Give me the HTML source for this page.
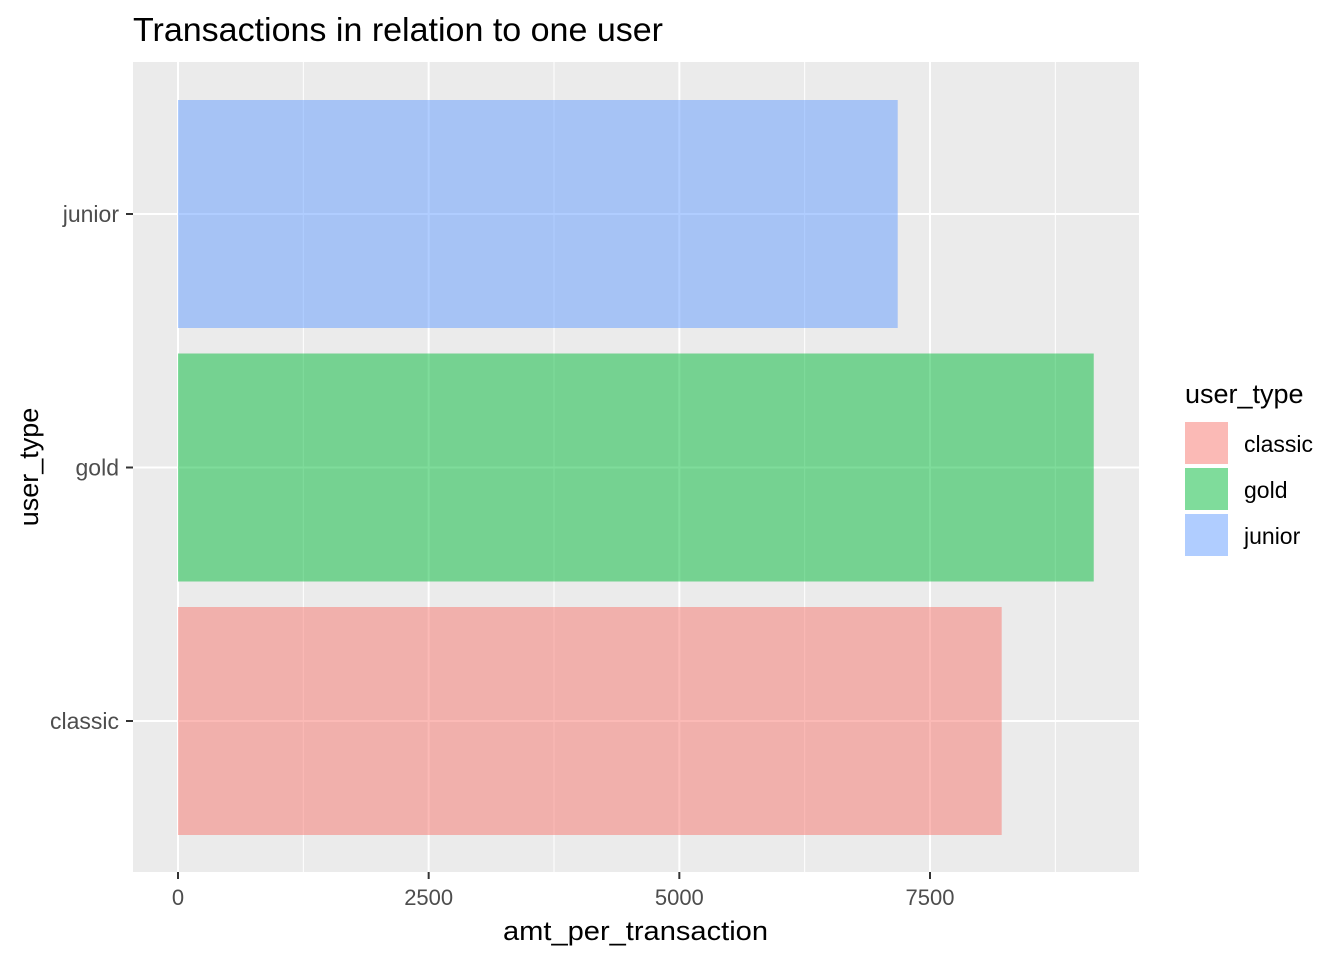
<!DOCTYPE html>
<html><head><meta charset="utf-8"><style>
body{margin:0;background:#fff;font-family:"Liberation Sans",sans-serif}
</style></head><body>
<svg width="1344" height="960" xmlns="http://www.w3.org/2000/svg" font-family="Liberation Sans, sans-serif">
<text x="133" y="41" font-size="33" textLength="530" lengthAdjust="spacingAndGlyphs" fill="#000">Transactions in relation to one user</text>
<rect x="133" y="62" width="1006" height="810" fill="#EBEBEB"/>
<g id="grid"></g>
<g id="bars"></g>
<g id="axes"></g>
<text x="503" y="940" font-size="27" textLength="265" lengthAdjust="spacingAndGlyphs" fill="#000">amt_per_transaction</text>
<text transform="translate(38,467) rotate(-90)" font-size="27" text-anchor="middle" fill="#000">user_type</text>
<g id="legend"></g>
</svg>
<script>
const categories=["classic","gold","junior"];
const values=[8215,9133,7178];
const colors=["#F8766D","#00BA38","#619CFF"];
const xTicks=[0,2500,5000,7500];
const xTickLabels=["0","2500","5000","7500"];
const NS="http://www.w3.org/2000/svg";
const x=v=>178+v*(930-178)/7500;
const band=253.5, y=i=>721-i*band;
function mk(tag,attrs,parent,text){const e=document.createElementNS(NS,tag);for(const k in attrs)e.setAttribute(k,attrs[k]);if(text!==undefined)e.textContent=text;document.getElementById(parent).appendChild(e);return e;}
for(let i=0;i<xTicks.length;i++){const m=xTicks[i]+1250;const el=mk('line',{x1:x(m),x2:x(m),y1:62,y2:872,stroke:'#fff','stroke-width':1},'grid');

}
xTicks.forEach((t,i)=>{const el=mk('line',{x1:x(t),x2:x(t),y1:62,y2:872,stroke:'#fff','stroke-width':2},'grid');


const tk=mk('line',{x1:x(t),x2:x(t),y1:872,y2:879,stroke:'#333','stroke-width':2},'axes');


const lb=mk('text',{x:x(t),y:905,'font-size':22,'text-anchor':'middle',fill:'#4D4D4D'},'axes',xTickLabels[i]);

});
categories.forEach((c,i)=>{const g=mk('line',{x1:133,x2:1139,y1:y(i),y2:y(i),stroke:'#fff','stroke-width':2},'grid');


const b=mk('rect',{x:x(0),y:y(i)-114,width:x(values[i])-x(0),height:228,fill:colors[i],'fill-opacity':0.5},'bars');


const tk=mk('line',{x1:126,x2:133,y1:y(i),y2:y(i),stroke:'#333','stroke-width':2},'axes');


const lb=mk('text',{x:119,y:y(i)+8,'font-size':23,'text-anchor':'end',fill:'#4D4D4D'},'axes',c);


const k=mk('rect',{x:1185,y:422+i*46,width:43,height:42,fill:colors[i],'fill-opacity':0.5},'legend');


const kl=mk('text',{x:1244,y:452+i*46,'font-size':23,fill:'#000'},'legend',c);

});
const lt=mk('text',{x:1185,y:403,'font-size':27,fill:'#000'},'legend','user_type');


</script>
</body></html>
